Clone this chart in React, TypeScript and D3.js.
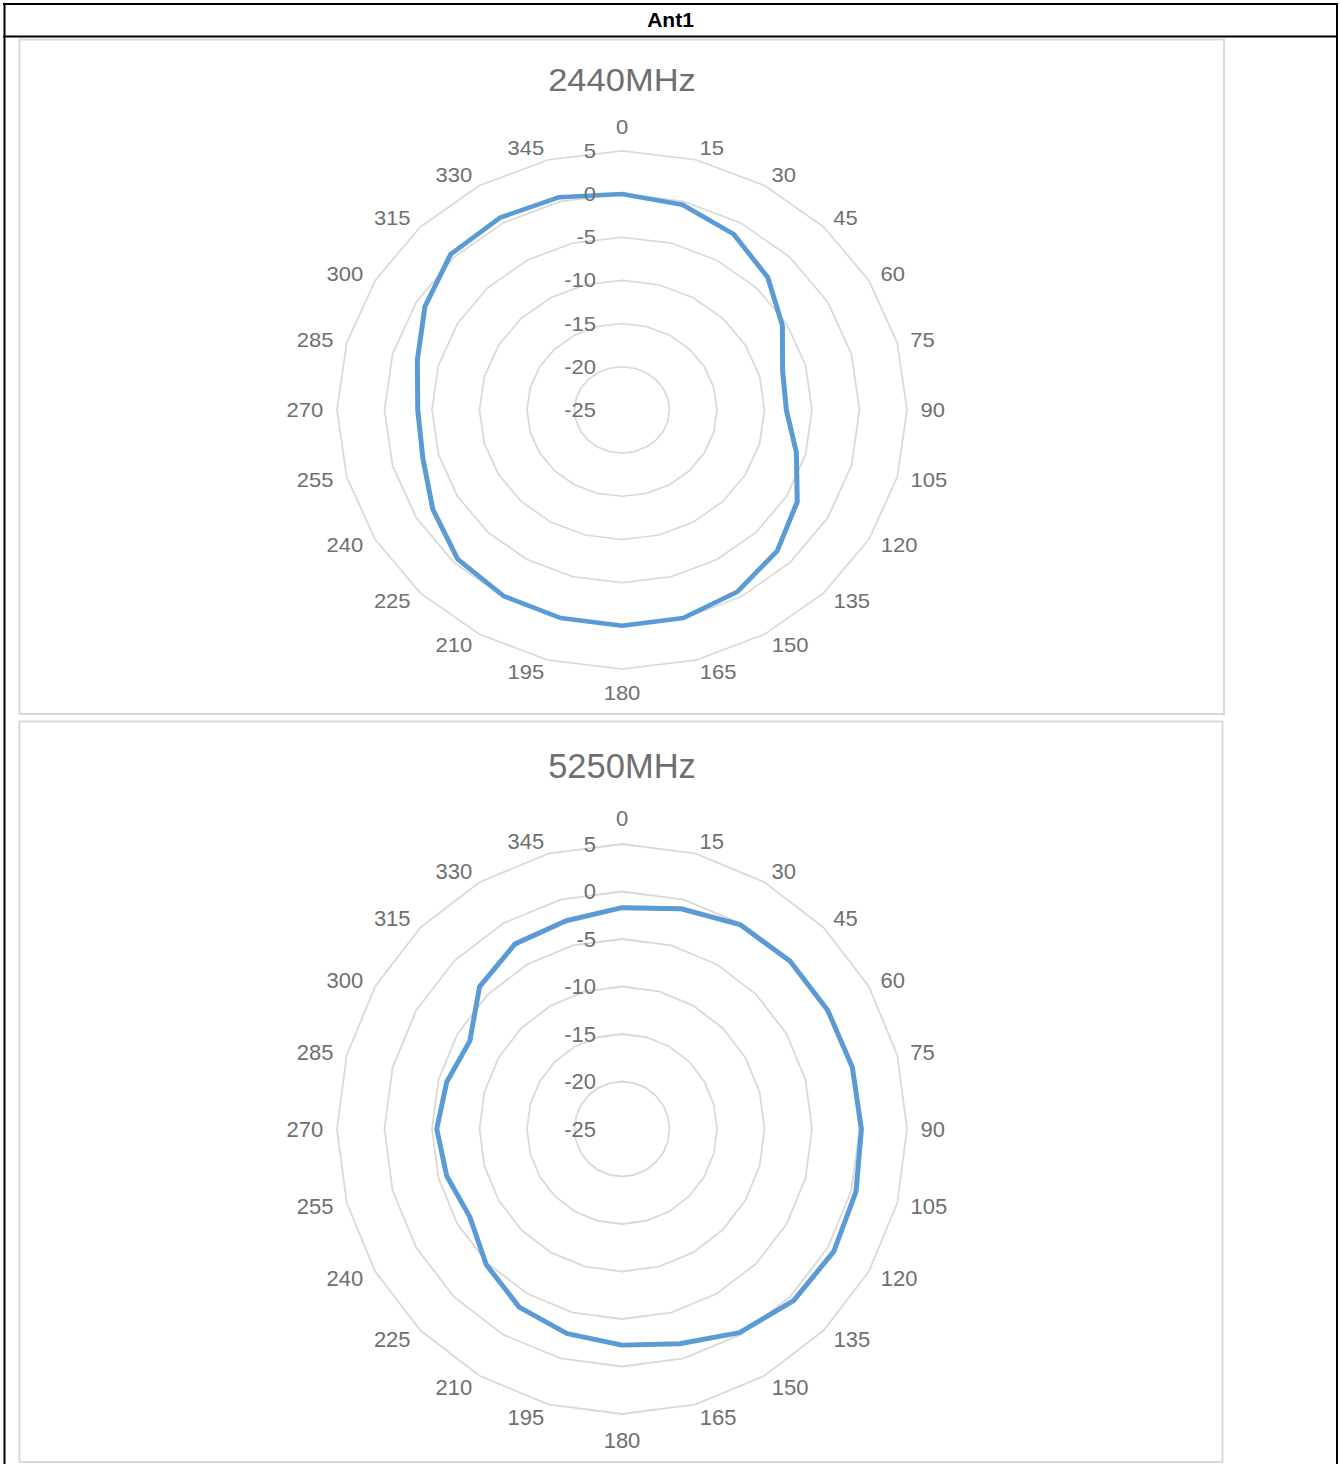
import React from 'react';
import * as d3 from 'd3';

// ---------- data ----------
const HEADER = 'Ant1';
const ANGLE_LABELS = ['0', '15', '30', '45', '60', '75', '90', '105', '120', '135', '150', '165',
  '180', '195', '210', '225', '240', '255', '270', '285', '300', '315', '330', '345'];
const RADIAL_TICKS = [5, 0, -5, -10, -15, -20, -25];
const RING_VALUES = [5, 0, -5, -10, -15, -20];
const RADIAL_DOMAIN = [-25, 5];

const TITLE_2440 = '2440MHz';
const SERIES_2440 = [0, -0.4, -1.5, -3.3, -5.5, -7.5, -7.7, -6.0, -3.7, -1.9, -0.7, -0.05,
  0, -0.05, -0.1, -0.55, -2.0, -3.3, -3.5, -2.7, -1.05, 0.5, 0.7, 0.5];

const TITLE_5250 = '5250MHz';
const SERIES_5250 = [-1.7, -1.0, -0.15, 0, 0, 0.1, 0.2, 0.5, 0.75, 0.55, -0.25, -1.6,
  -2.25, -2.7, -3.35, -4.8, -6.5, -5.9, -5.5, -5.9, -6.5, -3.8, -2.5, -2.3];

// ---------- styling ----------
const FONT = '"Liberation Sans", Arial, sans-serif';
const TEXT_COLOR = '#6f6f6f';
const GRID_COLOR = '#d9d9d9';
const LINE_COLOR = '#5b9bd5';

const R = 285;
const CX = 602.5;
const CY = 407.5;
const LABEL_FS = 22;
const DIGIT_W = 12.7;

type RadarProps = {
  x: number; y: number; w: number; h: number; sy: number;
  title: string; values: number[];
};

function Radar({ x, y, w, h, sy, title, values }: RadarProps) {
  const r = d3.scaleLinear().domain(RADIAL_DOMAIN).range([0, R]);
  const n = ANGLE_LABELS.length;
  const ang = (i: number) => (i * 2 * Math.PI) / n;
  const ring = d3.lineRadial<number>()
    .angle((_, i) => ang(i))
    .radius((d) => r(d))
    .curve(d3.curveLinearClosed);

  return (
    <g>
      <rect x={x} y={y} width={w} height={h} fill="#fff" stroke={GRID_COLOR} strokeWidth={2} />
      <g transform={`translate(${x},${y}) scale(1,${sy})`}>
        <text x={CX} y={44.5} dy="0.35em" textAnchor="middle" fontFamily={FONT}
          fontSize={34.5} fill={TEXT_COLOR}>{title}</text>
        <g transform={`translate(${CX},${CY})`}>
          {RING_VALUES.map((v) => (
            <path key={v} d={ring(ANGLE_LABELS.map(() => v)) || ''} fill="none"
              stroke={GRID_COLOR} strokeWidth={1.8} />
          ))}
          <path d={ring(values) || ''} fill="none" stroke={LINE_COLOR} strokeWidth={5}
            strokeLinejoin="round" />
          {RADIAL_TICKS.map((v) => (
            <text key={v} x={-26} y={-r(v)} dy="0.35em" textAnchor="end" fontFamily={FONT}
              fontSize={LABEL_FS} fill={TEXT_COLOR}>{String(v)}</text>
          ))}
          {ANGLE_LABELS.map((lab, i) => {
            const a = ang(i);
            const s = Math.sin(a);
            const c = Math.cos(a);
            const halfW = (lab.length * DIGIT_W) / 2;
            const base = R + 13;
            let lx = s * base;
            let ly = -c * base;
            if (Math.abs(s) > 1e-6) lx += Math.sign(s) * halfW;
            else ly += -Math.sign(c) * 13;
            return (
              <text key={lab} x={lx} y={ly} dy="0.35em" textAnchor="middle" fontFamily={FONT}
                fontSize={LABEL_FS} fill={TEXT_COLOR}>{lab}</text>
            );
          })}
        </g>
      </g>
    </g>
  );
}

export default function App() {
  const W = 1341;
  const H = 1464;
  return (
    <svg width={W} height={H} style={{ position: 'absolute', left: 0, top: 0, background: '#fff' }}>
      <rect x={0} y={0} width={W} height={H} fill="#fff" />
      {/* outer table frame */}
      <line x1={3} x2={1338} y1={4} y2={4} stroke="#000" strokeWidth={2} />
      <line x1={3} x2={1338} y1={36.5} y2={36.5} stroke="#000" strokeWidth={2} />
      <line x1={4.5} x2={4.5} y1={3} y2={H} stroke="#000" strokeWidth={2} />
      <line x1={1337} x2={1337} y1={3} y2={H} stroke="#000" strokeWidth={2} />
      <text x={670.5} y={19.5} dy="0.35em" textAnchor="middle" fontFamily={FONT} fontWeight="bold"
        fontSize={21} fill="#000">{HEADER}</text>
      <Radar x={19.5} y={39.5} w={1204.5} h={674.5} sy={0.909} title={TITLE_2440} values={SERIES_2440} />
      <Radar x={19.5} y={721.5} w={1203} h={740.5} sy={1} title={TITLE_5250} values={SERIES_5250} />
    </svg>
  );
}
